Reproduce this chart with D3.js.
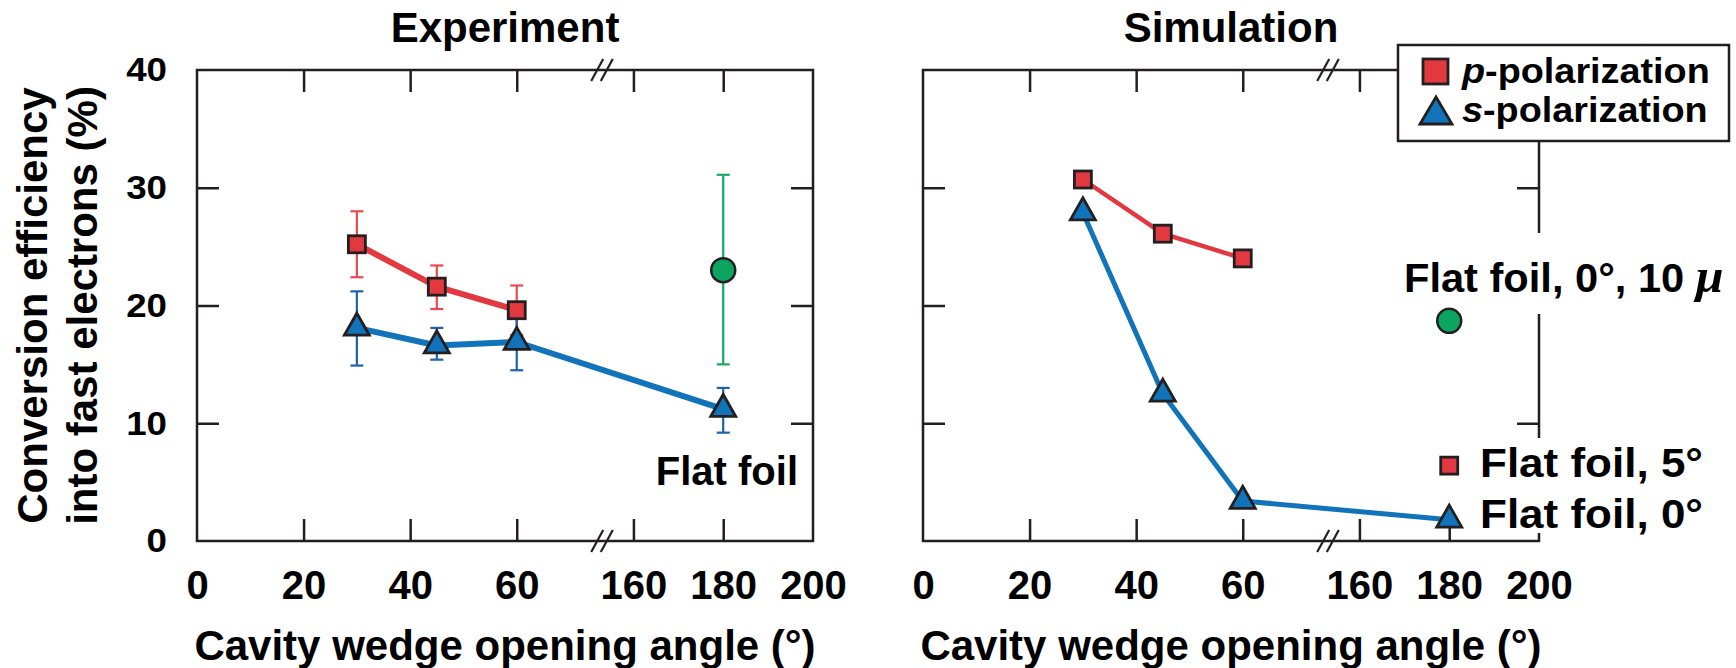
<!DOCTYPE html>
<html>
<head>
<meta charset="utf-8">
<script src="https://cdn.jsdelivr.net/npm/d3@7"></script>
<style>
  html, body { margin: 0; padding: 0; background: #fff; }
  svg { display: block; font-family: "Liberation Sans", Arial, Helvetica, sans-serif; font-weight: bold; }
</style>
</head>
<body>
<svg id="chart" width="1736" height="668"></svg>
<script>
// ---------------- data ----------------
const xTickValues = [0, 20, 40, 60, 160, 180, 200];
const xTickLabels = ["0", "20", "40", "60", "160", "180", "200"];
const yTickValues = [0, 10, 20, 30, 40];
const yTickLabels = ["0", "10", "20", "30", "40"];

// Experiment: p-polarization (wedge targets)
const expPAngles = [30, 45, 60];
const expP = [25.2, 21.6, 19.6];
const expPLow = [22.4, 19.7, 17.5];
const expPHigh = [28.0, 23.4, 21.7];

// Experiment: s-polarization (wedges + flat foil at 180)
const expSAngles = [30, 45, 60, 180];
const expS = [18.1, 16.6, 16.9, 11.2];
const expSLow = [14.9, 15.4, 14.5, 9.2];
const expSHigh = [21.2, 18.1, 19.3, 13.0];

// Experiment: flat foil reference
const expFlatAngles = [180];
const expFlat = [23.0];
const expFlatLow = [15.0];
const expFlatHigh = [31.1];

// Simulation
const simPAngles = [30, 45, 60];
const simP = [30.7, 26.1, 24.0];
const simSAngles = [30, 45, 60, 180];
const simS = [27.9, 12.5, 3.4, 1.8];
const simFlat5Angles = [180];
const simFlat5 = [6.4];
const simFlat10Angles = [180];
const simFlat10 = [18.7];

// ---------------- styling ----------------
const RED = "#e1393f", RED_ERR = "#e84a50";
const BLUE = "#1174bb", BLUE_ERR = "#1c62ad";
const GREEN = "#0aa55f", GREEN_ERR = "#18a864";
const INK = "#231f20";

// ---------------- layout ----------------
const svg = d3.select("#chart");
const plotTop = 70, plotBottom = 541, plotW = 616;
const plotH = plotBottom - plotTop;
const panels = [
  { x0: 197, title: "Experiment" },
  { x0: 923, title: "Simulation" }
];
// broken x axis: 0..76 then 153..200
const breakLo = 76, breakHi = 153;
const x = d3.scaleLinear().domain([0, breakLo, breakHi, 200]).range([0, 405, 405, plotW]);
const y = d3.scaleLinear().domain([0, 40]).range([plotH, 0]);

svg.append("rect").attr("width", 1736).attr("height", 668).attr("fill", "#fff");

function stretch(sel, k) {
  sel.each(function () {
    const w = this.getComputedTextLength();
    d3.select(this).attr("textLength", w * k).attr("lengthAdjust", "spacingAndGlyphs");
  });
}

const gPanels = panels.map((p, i) => {
  const g = svg.append("g").attr("transform", `translate(${p.x0},${plotTop})`);

  // inner ticks along the four sides
  const innerX = [20, 40, 60, 160, 180];
  const innerY = [10, 20, 30];
  const tickStyle = s => s.attr("stroke", INK).attr("stroke-width", 2.5);
  g.append("g").call(d3.axisBottom(x).tickValues(innerX).tickSize(22).tickFormat(""))
    .call(a => a.select(".domain").remove()).selectAll("line").call(tickStyle);
  g.append("g").attr("transform", `translate(0,${plotH})`)
    .call(d3.axisTop(x).tickValues(innerX).tickSize(22).tickFormat(""))
    .call(a => a.select(".domain").remove()).selectAll("line").call(tickStyle);
  g.append("g").call(d3.axisRight(y).tickValues(innerY).tickSize(22).tickFormat(""))
    .call(a => a.select(".domain").remove()).selectAll("line").call(tickStyle);
  g.append("g").attr("transform", `translate(${plotW},0)`)
    .call(d3.axisLeft(y).tickValues(innerY).tickSize(22).tickFormat(""))
    .call(a => a.select(".domain").remove()).selectAll("line").call(tickStyle);

  // frame
  g.append("rect").attr("width", plotW).attr("height", plotH)
    .attr("fill", "none").attr("stroke", INK).attr("stroke-width", 2.5);

  // axis break marks
  const bx = x(breakLo);
  [0, plotH].forEach(by => {
    [-4.8, 4.8].forEach(off => {
      g.append("line")
        .attr("x1", bx + off - 6).attr("y1", by + 11)
        .attr("x2", bx + off + 6).attr("y2", by - 11)
        .attr("stroke", INK).attr("stroke-width", 2.2);
    });
  });

  // x tick labels
  const xl = g.append("g").attr("transform", `translate(0,${plotH})`)
    .call(d3.axisBottom(x).tickValues(xTickValues).tickSize(0).tickPadding(30)
      .tickFormat((d, j) => xTickLabels[j]));
  xl.select(".domain").remove();
  xl.selectAll("text").attr("font-size", 40).attr("font-family", null).attr("fill", "#000");

  // y tick labels (left panel only)
  if (i === 0) {
    const yl = g.append("g")
      .call(d3.axisLeft(y).tickValues(yTickValues).tickSize(0).tickPadding(30)
        .tickFormat((d, j) => yTickLabels[j]));
    yl.select(".domain").remove();
    yl.selectAll("text").attr("font-size", 34).attr("font-family", null).attr("fill", "#000")
      .call(stretch, 1.08);
  }

  // panel title
  g.append("text").attr("x", plotW / 2).attr("y", 42 - plotTop)
    .attr("text-anchor", "middle").attr("font-size", 42).text(p.title);

  // x axis title
  g.append("text").attr("x", plotW / 2).attr("y", 660 - plotTop)
    .attr("text-anchor", "middle").attr("font-size", 42).text("Cavity wedge opening angle (°)");

  return g;
});

// y axis title
const yTitle = svg.append("text").attr("transform", `translate(0,${(plotTop + plotBottom) / 2}) rotate(-90)`)
  .attr("text-anchor", "middle").attr("font-size", 42);
yTitle.append("tspan").attr("x", 0).attr("y", 47).text("Conversion efficiency");
yTitle.append("tspan").attr("x", 0).attr("y", 97).text("into fast electrons (%)");

// ---------------- annotations ----------------
const gE = gPanels[0], gS = gPanels[1];
const ox = panels[1].x0;

gE.append("text").attr("x", 798 - panels[0].x0).attr("y", 485 - plotTop)
  .attr("text-anchor", "end").attr("font-size", 40).text("Flat foil");

// right-panel labels sit on white boxes that interrupt the frame
function boxedLabels(g, items, padTop, padBottom, clampBottom) {
  const bg = g.append("rect").attr("fill", "#fff");
  const texts = items.map(it => {
    const t = g.append("text").attr("x", it.x - ox).attr("y", it.y - plotTop)
      .attr("font-size", it.size);
    it.build(t);
    if (it.k) t.call(stretch, it.k);
    return t;
  });
  let x0 = Infinity, y0 = Infinity, x1 = -Infinity, y1 = -Infinity;
  texts.forEach(t => {
    const b = t.node().getBBox();
    x0 = Math.min(x0, b.x); y0 = Math.min(y0, b.y);
    x1 = Math.max(x1, b.x + b.width); y1 = Math.max(y1, b.y + b.height);
  });
  const yb = Math.min(y1 + padBottom, clampBottom);
  bg.attr("x", x0 - 4).attr("y", y0 - padTop).attr("width", x1 - x0 + 8).attr("height", yb - (y0 - padTop));
}

boxedLabels(gS, [{
  x: 1404, y: 292, size: 40, k: 1.04,
  build: t => {
    t.append("tspan").text("Flat foil, 0°, 10 ");
    t.append("tspan").attr("font-family", "Liberation Serif, serif").attr("font-style", "italic")
      .attr("font-size", 48).text("μ");
  }
}], 16, 12, plotH);

boxedLabels(gS, [
  { x: 1480, y: 477, size: 40, k: 1.1, build: t => t.text("Flat foil, 5°") },
  { x: 1480, y: 528, size: 40, k: 1.1, build: t => t.text("Flat foil, 0°") }
], 3, 10, plotH - 8);

// ---------------- marks ----------------
const SQ = 17, TRI_W = 25, TRI_H = 22, CR = 12;
const triPath = (w, h) => `M0,${-2 * h / 3}L${w / 2},${h / 3}L${-w / 2},${h / 3}Z`;

function errorBars(g, xs, lo, hi, color) {
  xs.forEach((a, i) => {
    const cx = x(a);
    g.append("line").attr("x1", cx).attr("x2", cx).attr("y1", y(lo[i])).attr("y2", y(hi[i]))
      .attr("stroke", color).attr("stroke-width", 2.2);
    [lo[i], hi[i]].forEach(v => {
      g.append("line").attr("x1", cx - 6.5).attr("x2", cx + 6.5).attr("y1", y(v)).attr("y2", y(v))
        .attr("stroke", color).attr("stroke-width", 2.2);
    });
  });
}

function line(g, xs, ys, color, width) {
  g.append("path").datum(xs.map((a, i) => [a, ys[i]]))
    .attr("d", d3.line().x(d => x(d[0])).y(d => y(d[1])))
    .attr("fill", "none").attr("stroke", color).attr("stroke-width", width)
    .attr("stroke-linejoin", "round");
}

function squares(g, xs, ys) {
  g.selectAll(null).data(xs.map((a, i) => [a, ys[i]])).join("rect")
    .attr("x", d => x(d[0]) - SQ / 2).attr("y", d => y(d[1]) - SQ / 2)
    .attr("width", SQ).attr("height", SQ)
    .attr("fill", RED).attr("stroke", INK).attr("stroke-width", 2.8);
}

function triangles(g, xs, ys) {
  g.selectAll(null).data(xs.map((a, i) => [a, ys[i]])).join("path")
    .attr("transform", d => `translate(${x(d[0])},${y(d[1])})`)
    .attr("d", triPath(TRI_W, TRI_H))
    .attr("fill", BLUE).attr("stroke", INK).attr("stroke-width", 2.8).attr("stroke-linejoin", "miter");
}

function circles(g, xs, ys) {
  g.selectAll(null).data(xs.map((a, i) => [a, ys[i]])).join("circle")
    .attr("cx", d => x(d[0])).attr("cy", d => y(d[1])).attr("r", CR)
    .attr("fill", GREEN).attr("stroke", INK).attr("stroke-width", 2.5);
}

// Experiment panel
errorBars(gE, expFlatAngles, expFlatLow, expFlatHigh, GREEN_ERR);
errorBars(gE, expPAngles, expPLow, expPHigh, RED_ERR);
errorBars(gE, expSAngles, expSLow, expSHigh, BLUE_ERR);
line(gE, expPAngles, expP, RED, 6);
line(gE, expSAngles, expS, BLUE, 6);
squares(gE, expPAngles, expP);
triangles(gE, expSAngles, expS);
circles(gE, expFlatAngles, expFlat);

// Simulation panel
line(gS, simPAngles, simP, RED, 4.5);
line(gS, simSAngles, simS, BLUE, 5);
squares(gS, simPAngles, simP);
squares(gS, simFlat5Angles, simFlat5);
triangles(gS, simSAngles, simS);
circles(gS, simFlat10Angles, simFlat10);

// ---------------- legend ----------------
const lg = svg.append("g");
lg.append("rect").attr("x", 1398).attr("y", 45).attr("width", 331).attr("height", 96)
  .attr("fill", "#fff").attr("stroke", INK).attr("stroke-width", 2.5);
lg.append("rect").attr("x", 1423).attr("y", 59).attr("width", 25).attr("height", 25)
  .attr("fill", RED).attr("stroke", INK).attr("stroke-width", 2.8);
lg.append("path").attr("transform", "translate(1436,115)").attr("d", triPath(32, 27))
  .attr("fill", BLUE).attr("stroke", INK).attr("stroke-width", 2.8);
[["p", "-polarization", 83], ["s", "-polarization", 122]].forEach(([a, b, yy]) => {
  const t = lg.append("text").attr("x", 1462).attr("y", yy).attr("font-size", 35);
  t.append("tspan").attr("font-style", "italic").text(a);
  t.append("tspan").text(b);
  t.call(stretch, 1.08);
});
</script>
</body>
</html>
